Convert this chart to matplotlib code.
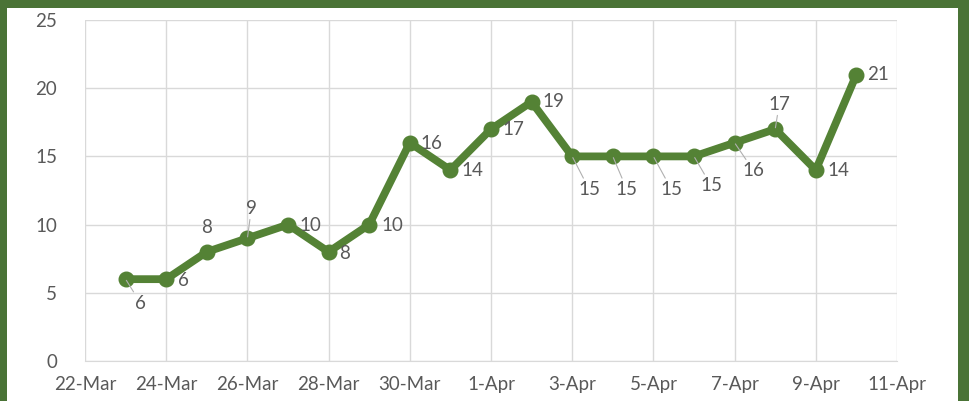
import matplotlib
matplotlib.use("Agg")
import matplotlib.pyplot as plt
import matplotlib.dates as mdates
from matplotlib.patches import Rectangle
import numpy as np
import datetime as dt

dates = ["2020-03-23", "2020-03-24", "2020-03-25", "2020-03-26", "2020-03-27",
         "2020-03-28", "2020-03-29", "2020-03-30", "2020-03-31", "2020-04-01",
         "2020-04-02", "2020-04-03", "2020-04-04", "2020-04-05", "2020-04-06",
         "2020-04-07", "2020-04-08", "2020-04-09", "2020-04-10"]
values = [6, 6, 8, 9, 10, 8, 10, 16, 14, 17, 19, 15, 15, 15, 15, 16, 17, 14, 21]

# label offsets in pixels (dx, dy) and whether a leader line is drawn
label_offsets = [(15, -24, True), (17, -1, False), (0, 24, False), (4, 30, True),
                 (22, -1, False), (16, -2, False), (23, -1, False), (22, -1, False),
                 (22, 0, False), (22, 0, False), (22, 0, False), (17, -33, True),
                 (14, -33, True), (18, -33, True), (17, -29, True), (19, -28, True),
                 (4, 25, True), (23, 0, False), (22, 0, False)]

plt.rcParams['font.family'] = ['Lato', 'DejaVu Sans']
W, H, DPI = 970, 401, 100
fig = plt.figure(figsize=(W / DPI, H / DPI), dpi=DPI)
fig.patch.set_facecolor('#4a7336')
bg = Rectangle((7 / W, 0), (W - 7 - 12) / W, (H - 8) / H,
               transform=fig.transFigure, facecolor='white',
               edgecolor='none', zorder=-10)
fig.patches.append(bg)

left, right, top, bottom = 85, 897, 20, 361
ax = fig.add_axes([left / W, 1 - bottom / H, (right - left) / W, (bottom - top) / H])
ax.set_zorder(5)
ax.set_facecolor('white')

x = [dt.datetime.strptime(d, "%Y-%m-%d") for d in dates]
line_color = '#548235'
ax.plot(x, values, color=line_color, linewidth=5.6, marker='o', markersize=10.5,
        solid_joinstyle='round', zorder=3)

for xi, v, (dx, dy, lead) in zip(x, values, label_offsets):
    kw = {}
    if lead:
        kw['arrowprops'] = dict(arrowstyle='-', color='#b0b0b0', lw=0.8,
                                shrinkA=0, shrinkB=1)
    ax.annotate(str(v), (mdates.date2num(xi), v), xytext=(dx, dy),
                textcoords='offset pixels', ha='center', va='center',
                fontsize=13.5, color='#595959', zorder=4, **kw)

ax.set_xlim(dt.datetime(2020, 3, 22), dt.datetime(2020, 4, 11))
ax.set_ylim(0, 25)
ax.set_yticks(np.arange(0, 26, 5))
ticks = [dt.datetime(2020, 3, 22) + dt.timedelta(days=2 * i) for i in range(11)]
ax.set_xticks(ticks)
ax.set_xticklabels([f"{t.day}-{t.strftime('%b')}" for t in ticks])

ax.grid(True, color='#d9d9d9', linewidth=1)
ax.set_axisbelow(True)
for s in ['top', 'right', 'left']:
    ax.spines[s].set_visible(False)
ax.spines['bottom'].set_color('#d9d9d9')
ax.tick_params(axis='both', length=0, labelsize=13.5, colors='#595959')
ax.tick_params(axis='x', pad=11)
ax.tick_params(axis='y', pad=20)

fig.savefig('out.png', dpi=DPI, facecolor=fig.get_facecolor())
